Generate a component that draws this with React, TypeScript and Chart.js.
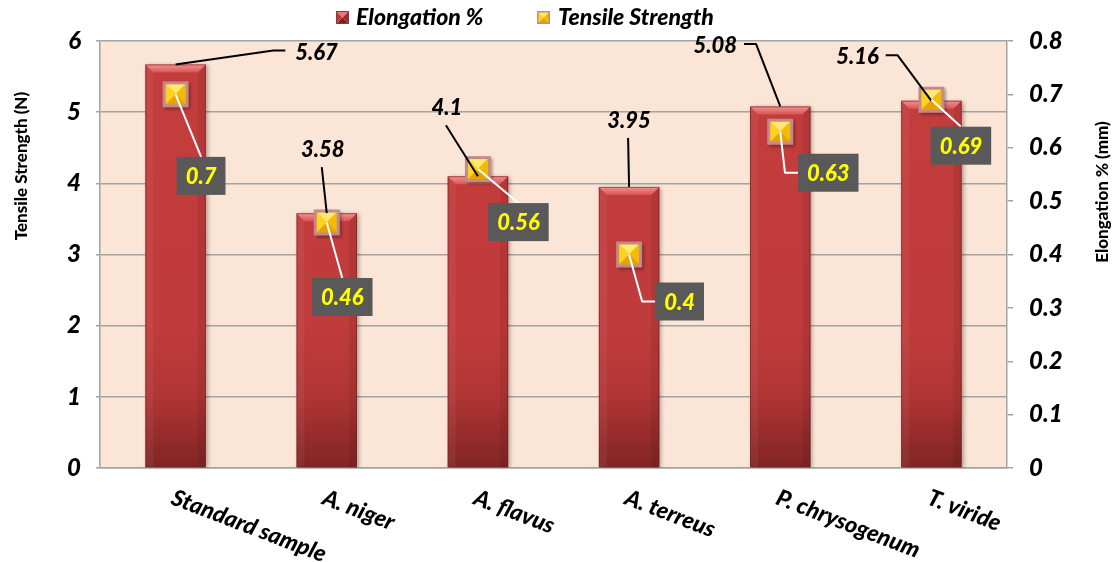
import { useEffect, useRef } from 'react';
import { Chart, registerables } from 'chart.js';

Chart.register(...registerables);

// ---- data ----
const categories = ['Standard sample', 'A. niger', 'A. flavus', 'A. terreus', 'P. chrysogenum', 'T. viride'];
const elongationValues = [5.67, 3.58, 4.1, 3.95, 5.08, 5.16];
const tensileValues = [0.7, 0.46, 0.56, 0.4, 0.63, 0.69];
const seriesNames = ['Elongation %', 'Tensile Strength'];
const leftTickLabels = ['0', '1', '2', '3', '4', '5', '6'];
const rightTickLabels = ['0', '0.1', '0.2', '0.3', '0.4', '0.5', '0.6', '0.7', '0.8'];
const leftAxisTitle = 'Tensile Strength (N)';
const rightAxisTitle = 'Elongation % (mm)';

// ---- styling ----
const FONT = 'Lato, "Open Sans", sans-serif';
const HEAVY = '900';
const GRID = '#a3a3a3';
const PLOT_BG = '#FBE5D6';

type Attach = 'top' | 'bottom' | 'left' | 'right';
type Placement = { dx: number; dy: number; attach: Attach };

// where each bar's value sits relative to the bar top, and which side its leader joins
const barLabelPlacement: Placement[] = [
  { dx: 141, dy: -12, attach: 'left' },
  { dx: -4, dy: -63, attach: 'bottom' },
  { dx: -31, dy: -68, attach: 'bottom' },
  { dx: 0, dy: -66, attach: 'bottom' },
  { dx: -65, dy: -61, attach: 'right' },
  { dx: -74, dy: -44, attach: 'right' },
];

// where each marker's boxed value sits relative to the marker centre
const markerLabelPlacement: Placement[] = [
  { dx: 25.5, dy: 81.5, attach: 'top' },
  { dx: 15.5, dy: 74.5, attach: 'top' },
  { dx: 40.5, dy: 53, attach: 'top' },
  { dx: 50.5, dy: 47, attach: 'left' },
  { dx: 48, dy: 41, attach: 'left' },
  { dx: 29.5, dy: 46, attach: 'top' },
];

type Facets = { border: string; top: string; right: string; bottom: string; left: string };
const yellowFacets: Facets = { border: '#c48a8a', top: '#FFEA6E', right: '#F4BC00', bottom: '#E8A200', left: '#FFD21C' };
const redFacets: Facets = { border: '#8a3a3a', top: '#E87878', right: '#9E2B2B', bottom: '#7E1F1F', left: '#BD3C3C' };

function drawPyramid(ctx: CanvasRenderingContext2D, x: number, y: number, s: number, f: Facets, bw: number) {
  const cx = x + s / 2;
  const cy = y + s / 2;
  const tri = (pts: number[][], color: string) => {
    ctx.beginPath();
    ctx.moveTo(pts[0][0], pts[0][1]);
    for (let i = 1; i < pts.length; i++) ctx.lineTo(pts[i][0], pts[i][1]);
    ctx.closePath();
    ctx.fillStyle = color;
    ctx.fill();
  };
  tri([[x, y], [x + s, y], [cx, cy]], f.top);
  tri([[x + s, y], [x + s, y + s], [cx, cy]], f.right);
  tri([[x, y + s], [x + s, y + s], [cx, cy]], f.bottom);
  tri([[x, y], [x, y + s], [cx, cy]], f.left);
  ctx.lineWidth = bw;
  ctx.strokeStyle = f.border;
  ctx.strokeRect(x + bw / 2, y + bw / 2, s - bw, s - bw);
}

function makeMarker(): HTMLCanvasElement {
  const c = document.createElement('canvas');
  c.width = 34;
  c.height = 34;
  const ctx = c.getContext('2d')!;
  ctx.save();
  ctx.shadowColor = 'rgba(0,0,0,0.35)';
  ctx.shadowBlur = 3;
  ctx.shadowOffsetX = 1.5;
  ctx.shadowOffsetY = 2;
  ctx.fillStyle = yellowFacets.border;
  ctx.fillRect(4, 4, 26, 26);
  ctx.restore();
  drawPyramid(ctx, 4, 4, 26, yellowFacets, 3);
  return c;
}

function line(ctx: CanvasRenderingContext2D, pts: number[][], color: string) {
  ctx.beginPath();
  ctx.moveTo(pts[0][0], pts[0][1]);
  for (let i = 1; i < pts.length; i++) ctx.lineTo(pts[i][0], pts[i][1]);
  ctx.strokeStyle = color;
  ctx.lineWidth = 2;
  ctx.lineJoin = 'round';
  ctx.stroke();
}

const decorPlugin = {
  id: 'decor',
  beforeDraw(chart: any) {
    const { ctx, chartArea: a } = chart;
    ctx.save();
    ctx.fillStyle = '#ffffff';
    ctx.fillRect(0, 0, chart.width, chart.height);
    ctx.fillStyle = PLOT_BG;
    ctx.fillRect(a.left, a.top, a.right - a.left, a.bottom - a.top);
    ctx.restore();
  },
  beforeDatasetDraw(chart: any, args: any) {
    if (args.index === 0) {
      const ctx = chart.ctx;
      ctx.save();
      ctx.shadowColor = 'rgba(0,0,0,0.3)';
      ctx.shadowBlur = 4;
      ctx.shadowOffsetX = 2;
      ctx.shadowOffsetY = 1;
    }
  },
  afterDatasetDraw(chart: any, args: any) {
    if (args.index !== 0) return;
    const ctx = chart.ctx;
    ctx.restore();
    ctx.save();
    chart.getDatasetMeta(0).data.forEach((el: any) => {
      const { x, y, base, width } = el.getProps(['x', 'y', 'base', 'width'], true);
      const l = x - width / 2;
      const r = x + width / 2;
      const bv = 8;
      // top bevel
      const g = ctx.createLinearGradient(0, y, 0, y + bv);
      g.addColorStop(0, '#F49292');
      g.addColorStop(1, '#D75555');
      ctx.beginPath();
      ctx.moveTo(l, y);
      ctx.lineTo(r, y);
      ctx.lineTo(r - bv, y + bv);
      ctx.lineTo(l + bv, y + bv);
      ctx.closePath();
      ctx.fillStyle = g;
      ctx.fill();
      // side bevels
      ctx.beginPath();
      ctx.moveTo(l, y);
      ctx.lineTo(l + bv, y + bv);
      ctx.lineTo(l + bv, base);
      ctx.lineTo(l, base);
      ctx.closePath();
      ctx.fillStyle = 'rgba(255,255,255,0.05)';
      ctx.fill();
      ctx.beginPath();
      ctx.moveTo(r, y);
      ctx.lineTo(r - bv, y + bv);
      ctx.lineTo(r - bv, base);
      ctx.lineTo(r, base);
      ctx.closePath();
      ctx.fillStyle = 'rgba(0,0,0,0.07)';
      ctx.fill();
      ctx.strokeStyle = 'rgba(120,30,30,0.6)';
      ctx.lineWidth = 1;
      ctx.strokeRect(l + 0.5, y + 0.5, width - 1, base - y - 1);
    });
    ctx.restore();
  },
  afterDatasetsDraw(chart: any) {
    const ctx: CanvasRenderingContext2D = chart.ctx;
    ctx.save();
    ctx.font = `italic ${HEAVY} 22px ${FONT}`;
    ctx.textBaseline = 'middle';
    ctx.textAlign = 'center';

    // bar values with black leaders
    chart.getDatasetMeta(0).data.forEach((el: any, i: number) => {
      const { x, y } = el.getProps(['x', 'y'], true);
      const p = barLabelPlacement[i];
      const cx = x + p.dx;
      const cy = y + p.dy;
      const text = String(elongationValues[i]);
      const w = ctx.measureText(text).width;
      if (p.attach === 'bottom') {
        line(ctx, [[cx - 1, cy + 17], [x, y]], '#000');
      } else if (p.attach === 'left') {
        const e = cx - w / 2 - 10;
        line(ctx, [[x, y], [e - 12, cy - 2], [e, cy - 2]], '#000');
      } else if (p.attach === 'right') {
        const s = cx + w / 2 + 7;
        line(ctx, [[x, y], [s + 12, cy - 1.5], [s, cy - 1.5]], '#000');
      }
      ctx.fillStyle = '#000';
      ctx.fillText(text, cx, cy);
    });

    // marker values in dark boxes with white leaders
    chart.getDatasetMeta(1).data.forEach((el: any, i: number) => {
      const { x, y } = el.getProps(['x', 'y'], true);
      const p = markerLabelPlacement[i];
      const cx = x + p.dx;
      const cy = y + p.dy;
      const text = String(tensileValues[i]);
      const w = ctx.measureText(text).width + 18;
      const h = 38;
      if (p.attach === 'top') {
        line(ctx, [[x, y], [cx, cy - h / 2]], '#fff');
      } else if (p.attach === 'left') {
        const bl = cx - w / 2;
        line(ctx, [[x, y], [bl - 13, cy], [bl, cy]], '#fff');
      }
      ctx.fillStyle = '#595959';
      ctx.fillRect(cx - w / 2, cy - h / 2, w, h);
      ctx.fillStyle = '#FFFF00';
      ctx.fillText(text, cx, cy + 1);
    });
    ctx.restore();
  },
  afterDraw(chart: any) {
    const ctx: CanvasRenderingContext2D = chart.ctx;
    const xs = chart.scales.x;
    ctx.save();
    // category labels, slanted
    ctx.font = `italic ${HEAVY} 23px ${FONT}`;
    ctx.fillStyle = '#000';
    ctx.textAlign = 'left';
    ctx.textBaseline = 'top';
    categories.forEach((c, i) => {
      const x = xs.getPixelForValue(i);
      ctx.save();
      ctx.translate(x + 1, 486);
      ctx.rotate((21 * Math.PI) / 180);
      ctx.fillText(c, 0, 0);
      ctx.restore();
    });

    // axis titles
    ctx.font = `${HEAVY} 17px ${FONT}`;
    ctx.textAlign = 'center';
    ctx.textBaseline = 'middle';
    ctx.save();
    ctx.translate(22, 166);
    ctx.rotate(-Math.PI / 2);
    ctx.fillText(leftAxisTitle, 0, 0);
    ctx.restore();
    ctx.save();
    ctx.translate(1103, 192);
    ctx.rotate(-Math.PI / 2);
    ctx.fillText(rightAxisTitle, 0, 0);
    ctx.restore();

    // legend
    ctx.font = `italic ${HEAVY} 23px ${FONT}`;
    ctx.textAlign = 'left';
    drawPyramid(ctx, 336, 11, 13, redFacets, 1);
    ctx.fillStyle = '#000';
    ctx.fillText(seriesNames[0], 356, 18);
    drawPyramid(ctx, 537, 11, 13, yellowFacets, 1.5);
    ctx.fillStyle = '#000';
    ctx.fillText(seriesNames[1], 558, 18);
    ctx.restore();
  },
};

export default function App() {
  const ref = useRef<HTMLCanvasElement | null>(null);

  useEffect(() => {
    if (!ref.current) return;
    const marker = makeMarker();
    const tickFont = { family: FONT, size: 24, style: 'italic' as const, weight: HEAVY };

    const chart = new Chart(ref.current, {
      data: {
        labels: categories,
        datasets: [
          {
            type: 'bar',
            label: seriesNames[0],
            data: elongationValues,
            yAxisID: 'y',
            order: 2,
            barPercentage: 0.4,
            categoryPercentage: 1,
            borderWidth: 0,
            backgroundColor: (c: any) => {
              const a = c.chart.chartArea;
              if (!a) return '#C23C3C';
              const g = c.chart.ctx.createLinearGradient(0, a.bottom, 0, a.top);
              g.addColorStop(0, '#812424');
              g.addColorStop(0.17, '#B13535');
              g.addColorStop(0.33, '#C03B3B');
              g.addColorStop(1, '#C43D3D');
              return g;
            },
          },
          {
            type: 'line',
            label: seriesNames[1],
            data: tensileValues,
            yAxisID: 'y1',
            order: 1,
            showLine: false,
            pointStyle: marker,
            pointRadius: 13,
            pointHoverRadius: 13,
          },
        ],
      } as any,
      options: {
        responsive: true,
        maintainAspectRatio: false,
        animation: false,
        layout: { padding: { top: 41, left: 0, right: 0, bottom: 0 } },
        plugins: { legend: { display: false }, tooltip: { enabled: false } },
        events: [],
        scales: {
          x: {
            type: 'category',
            grid: { display: false },
            border: { display: true, color: GRID, width: 1.5 },
            ticks: { display: false },
            afterFit: (s: any) => {
              s.height = 94;
            },
          },
          y: {
            position: 'left',
            min: 0,
            max: 6,
            ticks: {
              stepSize: 1,
              color: '#000',
              font: tickFont,
              padding: 15,
              callback: (_v: any, i: number) => leftTickLabels[i],
            },
            grid: { color: GRID, lineWidth: 1.5, drawTicks: true, tickLength: 4 },
            border: { display: true, color: GRID, width: 1.5 },
            afterFit: (s: any) => {
              s.width = 100;
            },
          },
          y1: {
            position: 'right',
            min: 0,
            max: 0.8,
            ticks: {
              stepSize: 0.1,
              color: '#000',
              font: tickFont,
              padding: 16,
              callback: (_v: any, i: number) => rightTickLabels[i],
            },
            grid: { drawOnChartArea: false, color: GRID, lineWidth: 1.5, drawTicks: true, tickLength: 6 },
            border: { display: true, color: GRID, width: 1.5 },
            afterFit: (s: any) => {
              s.width = 109;
            },
          },
        },
      } as any,
      plugins: [decorPlugin],
    });
    return () => chart.destroy();
  }, []);

  return (
    <div style={{ position: 'absolute', left: 0, top: 0, width: 1116, height: 562 }}>
      <canvas ref={ref} />
    </div>
  );
}
